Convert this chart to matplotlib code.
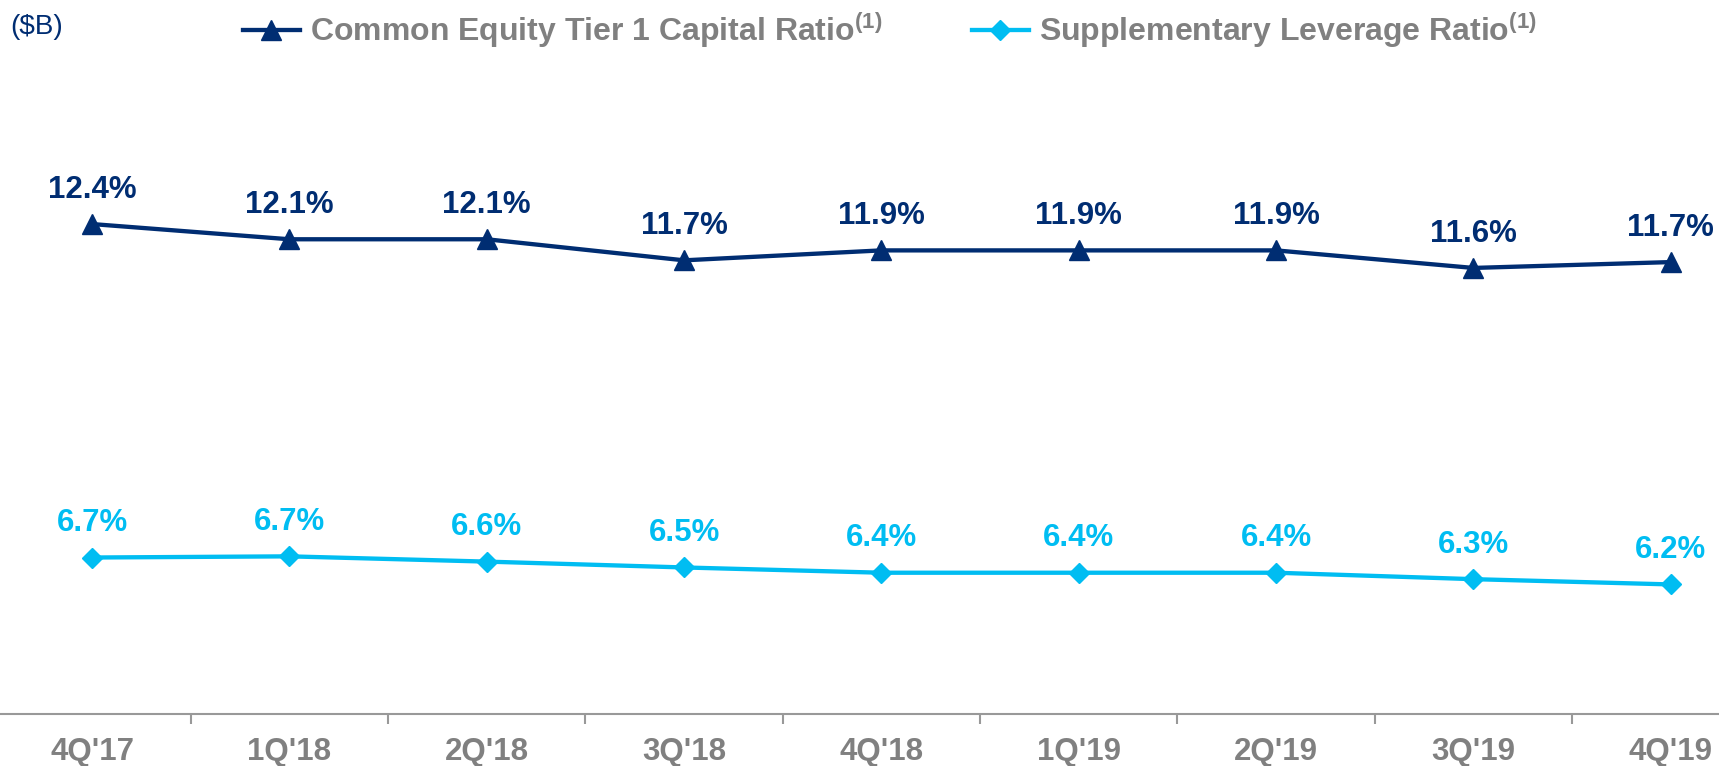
import matplotlib
matplotlib.use("Agg")
from matplotlib import pyplot as plt

quarters = ["4Q'17", "1Q'18", "2Q'18", "3Q'18", "4Q'18", "1Q'19", "2Q'19", "3Q'19", "4Q'19"]
# plotted positions, labels as printed
cet1 = [12.38, 12.12, 12.12, 11.76, 11.93, 11.93, 11.93, 11.63, 11.73]
cet1_labels = ["12.4%", "12.1%", "12.1%", "11.7%", "11.9%", "11.9%", "11.9%", "11.6%", "11.7%"]
slr = [6.68, 6.70, 6.61, 6.51, 6.42, 6.42, 6.42, 6.31, 6.22]
slr_labels = ["6.7%", "6.7%", "6.6%", "6.5%", "6.4%", "6.4%", "6.4%", "6.3%", "6.2%"]

navy = "#002D72"
light = "#00BDF2"
gray = "#808080"

plt.rcParams["font.family"] = ["Liberation Sans", "DejaVu Sans"]
plt.rcParams["mathtext.fontset"] = "custom"
plt.rcParams["mathtext.rm"] = "Liberation Sans"
plt.rcParams["mathtext.bf"] = "Liberation Sans:bold"

fig = plt.figure(figsize=(17.19, 7.66), dpi=100)
ax = fig.add_axes([0, 51.7 / 766, 1, 714.3 / 766])

x = list(range(len(quarters)))
ax.plot(x, cet1, color=navy, lw=3.1, marker="^", ms=15,
        label="Common Equity Tier 1 Capital Ratio$^{\\mathbf{(1)}}$")
ax.plot(x, slr, color=light, lw=3.1, marker="D", ms=10,
        label="Supplementary Leverage Ratio$^{\\mathbf{(1)}}$")

# value labels
for xi, v, t in zip(x, cet1, cet1_labels):
    ax.annotate(t, (xi, v), xytext=(0, 19), textcoords="offset points",
                ha="center", va="baseline", fontsize=22.5, fontweight="bold", color=navy)
for xi, v, t in zip(x, slr, slr_labels):
    ax.annotate(t, (xi, v), xytext=(0, 19), textcoords="offset points",
                ha="center", va="baseline", fontsize=22.5, fontweight="bold", color=light)

ax.set_xlim(-0.467, 8.245)
ax.set_ylim(4, 16.21)

for s in ["top", "right", "left"]:
    ax.spines[s].set_visible(False)
ax.spines["bottom"].set_color("#999999")
ax.spines["bottom"].set_linewidth(1.5)
ax.set_yticks([])
ax.set_xticks(x)
ax.set_xticklabels(quarters, fontsize=22.5, fontweight="bold", color=gray)
ax.set_xticks([i + 0.5 for i in x[:-1]], minor=True)
ax.tick_params(axis="x", which="major", length=0, pad=16)
ax.tick_params(axis="x", which="minor", length=7, width=1.5, color="#999999", direction="out")

fig.text(0.006, 0.965, "($B)", fontsize=20, color=navy, va="center", ha="left")

leg = fig.legend(loc="center", bbox_to_anchor=(0.5175, 0.961), ncol=2, frameon=False,
                 handlelength=1.8, handletextpad=0.3, columnspacing=2.8,
                 prop={"size": 23, "weight": "bold"})
for t in leg.get_texts():
    t.set_color(gray)

fig.savefig("out.png", dpi=100)
